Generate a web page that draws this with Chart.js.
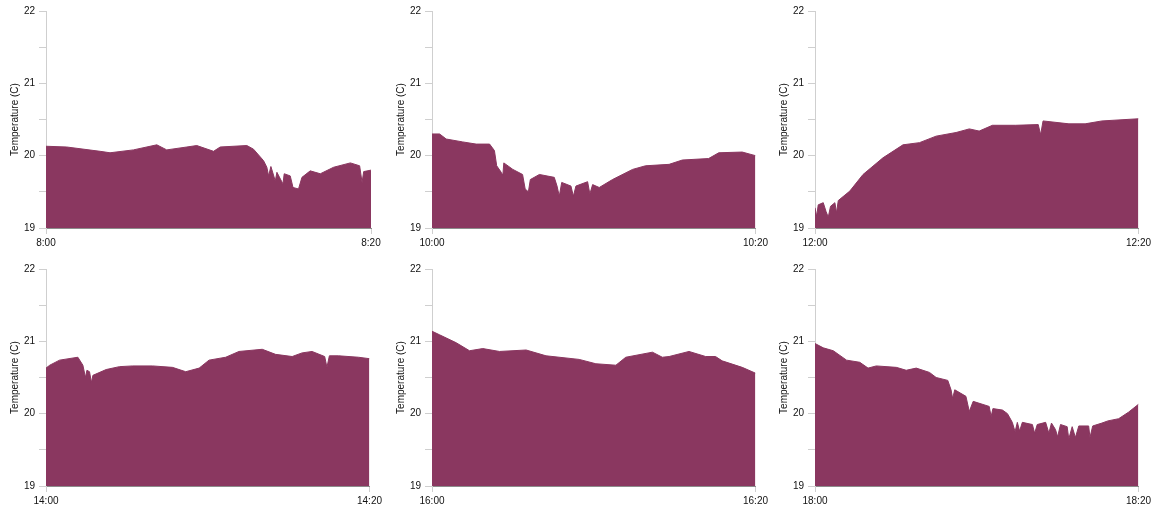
<!DOCTYPE html>
<html>
<head>
<meta charset="utf-8">
<script src="https://cdn.jsdelivr.net/npm/chart.js@4/dist/chart.umd.min.js"></script>
<style>
  body { margin: 0; background: #fff; }
  .panel { position: absolute; width: 385px; height: 250px; }
</style>
</head>
<body>
<div class="panel" style="left:0px;top:0px"><canvas id="c0"></canvas></div>
<div class="panel" style="left:386px;top:0px"><canvas id="c1"></canvas></div>
<div class="panel" style="left:769px;top:0px"><canvas id="c2"></canvas></div>
<div class="panel" style="left:0px;top:258px"><canvas id="c3"></canvas></div>
<div class="panel" style="left:386px;top:258px"><canvas id="c4"></canvas></div>
<div class="panel" style="left:769px;top:258px"><canvas id="c5"></canvas></div>
<script>
// tick labels at the start / end of each 20 minute window
const startLabels = ['8:00', '10:00', '12:00', '14:00', '16:00', '18:00'];
const endLabels = ['8:20', '10:20', '12:20', '14:20', '16:20', '18:20'];

// minutes after start, and temperature (C)
const t1 = [0, 1.27, 3.33, 3.94, 5.38, 6.82, 7.43, 8.67, 9.28, 10.31, 10.72, 12.36, 12.77, 13.39, 13.59, 13.7, 13.84, 14.11, 14.21, 14.58, 14.66, 15.03, 15.2, 15.54, 15.75, 16.26, 16.88, 17.7, 18.73, 19.3, 19.45, 19.55, 20];
const v1 = [20.13, 20.12, 20.06, 20.04, 20.08, 20.15, 20.08, 20.12, 20.14, 20.06, 20.12, 20.14, 20.09, 19.93, 19.84, 19.72, 19.85, 19.65, 19.77, 19.61, 19.75, 19.72, 19.56, 19.54, 19.7, 19.79, 19.75, 19.84, 19.9, 19.86, 19.63, 19.78, 19.8];

const t2 = [0, 0.47, 0.88, 1.9, 2.73, 3.56, 3.86, 4.0, 4.28, 4.38, 4.44, 5.0, 5.6, 5.76, 5.96, 6.08, 6.64, 7.56, 7.73, 7.87, 8.02, 8.59, 8.74, 8.9, 9.62, 9.76, 9.93, 10.34, 11.16, 12.4, 13.2, 14.66, 15.48, 17.1, 17.73, 19.18, 20];
const v2 = [20.3, 20.3, 20.23, 20.19, 20.16, 20.16, 20.07, 19.86, 19.77, 19.73, 19.9, 19.81, 19.74, 19.54, 19.5, 19.67, 19.74, 19.7, 19.58, 19.44, 19.63, 19.58, 19.44, 19.58, 19.64, 19.47, 19.6, 19.56, 19.67, 19.81, 19.86, 19.88, 19.94, 19.96, 20.04, 20.05, 20.0];

const t3 = [0, 0.1, 0.2, 0.51, 0.68, 0.82, 0.96, 1.23, 1.33, 1.44, 2.15, 2.97, 4.2, 5.44, 6.46, 7.49, 8.72, 9.54, 10.15, 10.97, 12.41, 13.8, 13.95, 14.1, 15.7, 16.7, 17.74, 20];
const v3 = [19.28, 19.16, 19.32, 19.35, 19.23, 19.15, 19.3, 19.35, 19.21, 19.38, 19.51, 19.74, 19.97, 20.15, 20.18, 20.27, 20.32, 20.37, 20.34, 20.42, 20.42, 20.43, 20.29, 20.48, 20.44, 20.44, 20.48, 20.51];

const t4 = [0, 0.23, 0.84, 1.97, 2.28, 2.44, 2.53, 2.69, 2.81, 2.9, 3.72, 4.54, 5.36, 6.59, 7.82, 8.64, 9.47, 10.08, 11.11, 11.93, 13.37, 14.19, 15.22, 15.83, 16.45, 17.23, 17.37, 17.52, 18.09, 19.32, 20];
const v4 = [20.63, 20.67, 20.74, 20.78, 20.67, 20.5, 20.6, 20.58, 20.43, 20.53, 20.61, 20.65, 20.66, 20.66, 20.64, 20.58, 20.63, 20.74, 20.78, 20.86, 20.89, 20.82, 20.79, 20.84, 20.86, 20.79, 20.64, 20.8, 20.8, 20.78, 20.76];

const t5 = [0, 0.47, 1.5, 2.32, 3.14, 4.17, 5.82, 7.05, 9.1, 10.13, 11.37, 11.98, 13.63, 14.24, 14.66, 15.89, 16.92, 17.53, 17.94, 19.18, 20];
const v5 = [21.14, 21.09, 20.98, 20.87, 20.9, 20.86, 20.88, 20.8, 20.75, 20.69, 20.67, 20.78, 20.85, 20.78, 20.79, 20.86, 20.79, 20.79, 20.73, 20.64, 20.56];

const t6 = [0, 0.51, 1.13, 1.95, 2.77, 3.28, 3.79, 5.03, 5.64, 6.26, 7.08, 7.49, 8.21, 8.41, 8.51, 8.64, 9.33, 9.54, 9.78, 10.77, 10.89, 11.0, 11.59, 11.9, 12.2, 12.37, 12.51, 12.65, 12.82, 13.44, 13.58, 13.74, 14.26, 14.46, 14.62, 14.87, 15.0, 15.18, 15.59, 15.69, 15.9, 16.1, 16.31, 16.92, 17.0, 17.17, 17.74, 18.11, 18.77, 19.38, 20];
const v6 = [20.97, 20.91, 20.87, 20.74, 20.71, 20.63, 20.66, 20.64, 20.6, 20.63, 20.57, 20.5, 20.46, 20.33, 20.21, 20.33, 20.24, 20.03, 20.17, 20.1, 19.96, 20.07, 20.05, 20.0, 19.88, 19.75, 19.88, 19.76, 19.88, 19.85, 19.73, 19.85, 19.88, 19.73, 19.87, 19.78, 19.68, 19.85, 19.82, 19.65, 19.82, 19.67, 19.83, 19.83, 19.67, 19.83, 19.87, 19.9, 19.93, 20.02, 20.13];

const times = [t1, t2, t3, t4, t5, t6];
const temps = [v1, v2, v3, v4, v5, v6];

const fillColor = '#8a3760';
const axisGray = '#cfcfcf';
const font = { family: 'Liberation Sans, Arial, sans-serif', size: 10 };

for (let i = 0; i < 6; i++) {
  const points = times[i].map((t, k) => ({ x: t, y: temps[i][k] }));
  new Chart(document.getElementById('c' + i), {
    type: 'line',
    data: {
      datasets: [{
        data: points,
        borderColor: fillColor,
        backgroundColor: fillColor,
        borderWidth: 1,
        pointRadius: 0,
        fill: 'start',
        tension: 0
      }]
    },
    options: {
      responsive: true,
      maintainAspectRatio: false,
      animation: false,
      layout: { padding: { top: 11, right: 14 } },
      plugins: { legend: { display: false }, tooltip: { enabled: false } },
      scales: {
        x: {
          type: 'linear',
          min: 0,
          max: 20,
          afterBuildTicks: axis => { axis.ticks = [{ value: 0 }, { value: 20 }]; },
          afterFit: axis => { axis.height = 22; },
          ticks: {
            color: '#111',
            font: font,
            padding: 3,
            maxRotation: 0,
            autoSkip: false,
            callback: v => v === 0 ? startLabels[i] : endLabels[i]
          },
          grid: { drawOnChartArea: false, color: axisGray, tickLength: 6 },
          border: { color: 'rgba(0,0,0,0.45)' }
        },
        y: {
          min: 19,
          max: 22,
          afterFit: axis => { axis.width = 46; },
          ticks: {
            stepSize: 0.5,
            color: '#111',
            font: font,
            padding: 4,
            callback: v => Number.isInteger(v) ? String(v) : ''
          },
          grid: { drawOnChartArea: false, color: axisGray, tickLength: 7 },
          border: { color: axisGray },
          title: {
            display: true,
            text: 'Temperature (C)',
            color: '#111',
            font: font,
            padding: { top: 9, bottom: 0 }
          }
        }
      }
    }
  });
}
</script>
</body>
</html>
